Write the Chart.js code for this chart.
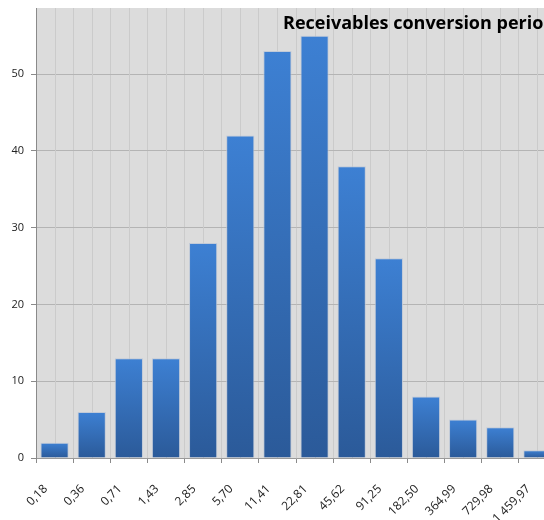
<!DOCTYPE html>
<html>
<head>
<meta charset="utf-8">
<script src="https://cdn.jsdelivr.net/npm/chart.js@4/dist/chart.umd.min.js"></script>
<style>
  body { margin: 0; background: #fff; }
  #wrap { width: 544px; height: 520px; overflow: hidden; }
</style>
</head>
<body>
<div id="wrap"><canvas id="chart" width="560" height="520"></canvas></div>
<script>
/* --------- データ --------- */
const categories = ["0,18", "0,36", "0,71", "1,43", "2,85", "5,70", "11,41", "22,81", "45,62", "91,25", "182,50", "364,99", "729,98", "1 459,97"];
const counts = [2, 6, 13, 13, 28, 42, 53, 55, 38, 26, 8, 5, 4, 1];
const chartTitle = "Receivables conversion period";

/* --------- ヘルパー --------- */
// 各バーの上が明るく下が暗いグラデーション
function barGradient(c) {
  const chart = c.chart;
  if (!chart.chartArea || !chart.scales.y) return "#3370bb";
  const y = chart.scales.y;
  const top = y.getPixelForValue(c.raw ?? 0);
  const bot = y.getPixelForValue(0);
  const g = chart.ctx.createLinearGradient(0, top, 0, bot);
  g.addColorStop(0, "#3d80d3");
  g.addColorStop(1, "#2b5a99");
  return g;
}

// プロット背景 + カテゴリ中央の補助線 + タイトル
const plotDecor = {
  id: "plotDecor",
  beforeDraw(chart) {
    const { ctx, chartArea: a } = chart;
    ctx.save();
    ctx.fillStyle = "#dcdcdc";
    ctx.fillRect(a.left, a.top, a.right - a.left, a.bottom - a.top);
    ctx.restore();
  },
  beforeDatasetsDraw(chart) {
    const { ctx, chartArea: a, scales } = chart;
    ctx.save();
    ctx.strokeStyle = "#cbcbcb";
    ctx.lineWidth = 1;
    scales.x.ticks.forEach((t, i) => {
      const x = Math.round(scales.x.getPixelForTick(i)) + 0.5;
      ctx.beginPath();
      ctx.moveTo(x, a.top);
      ctx.lineTo(x, a.bottom);
      ctx.stroke();
    });
    ctx.restore();
  },
  afterDraw(chart) {
    const { ctx } = chart;
    ctx.save();
    ctx.fillStyle = "#000";
    ctx.font = "bold 18px 'Open Sans'";
    ctx.textBaseline = "alphabetic";
    ctx.fillText(chartTitle, 283, 29);
    ctx.restore();
  },
};

/* --------- グラフ描画 --------- */
new Chart(document.getElementById("chart"), {
  type: "bar",
  data: {
    labels: categories,
    datasets: [
      {
        data: counts,
        backgroundColor: barGradient,
        borderColor: "rgba(190,200,215,0.9)",
        borderWidth: 1,
        categoryPercentage: 1,
        barPercentage: 0.76,
      },
    ],
  },
  options: {
    responsive: false,
    animation: false,
    layout: { padding: { top: 8, right: 4, left: 0, bottom: 0 } },
    plugins: { legend: { display: false }, tooltip: { enabled: false } },
    scales: {
      x: {
        grid: { color: "#cbcbcb", tickColor: "#8a8a8a", tickLength: 5, offset: true },
        border: { color: "#9a9a9a" },
        ticks: {
          color: "#222",
          font: { family: "'Open Sans'", size: 12 },
          minRotation: 45,
          maxRotation: 45,
          padding: 19,
          labelOffset: -9,
          autoSkip: false,
        },
        afterFit(s) {
          s.height = 62;
          s.paddingLeft = 0;
          s.paddingRight = 0;
        },
      },
      y: {
        min: 0,
        max: 58.6,
        grid: { color: "#b4b4b4", tickColor: "#8a8a8a", tickLength: 5 },
        border: { color: "#8a8a8a" },
        ticks: {
          stepSize: 10,
          includeBounds: false,
          color: "#222",
          font: { family: "'Open Sans'", size: 11 },
          padding: 7,
        },
        afterFit(s) {
          s.width = 36;
          s.paddingTop = 0;
          s.paddingBottom = 0;
        },
      },
    },
  },
  plugins: [plotDecor],
});
</script>
</body>
</html>
